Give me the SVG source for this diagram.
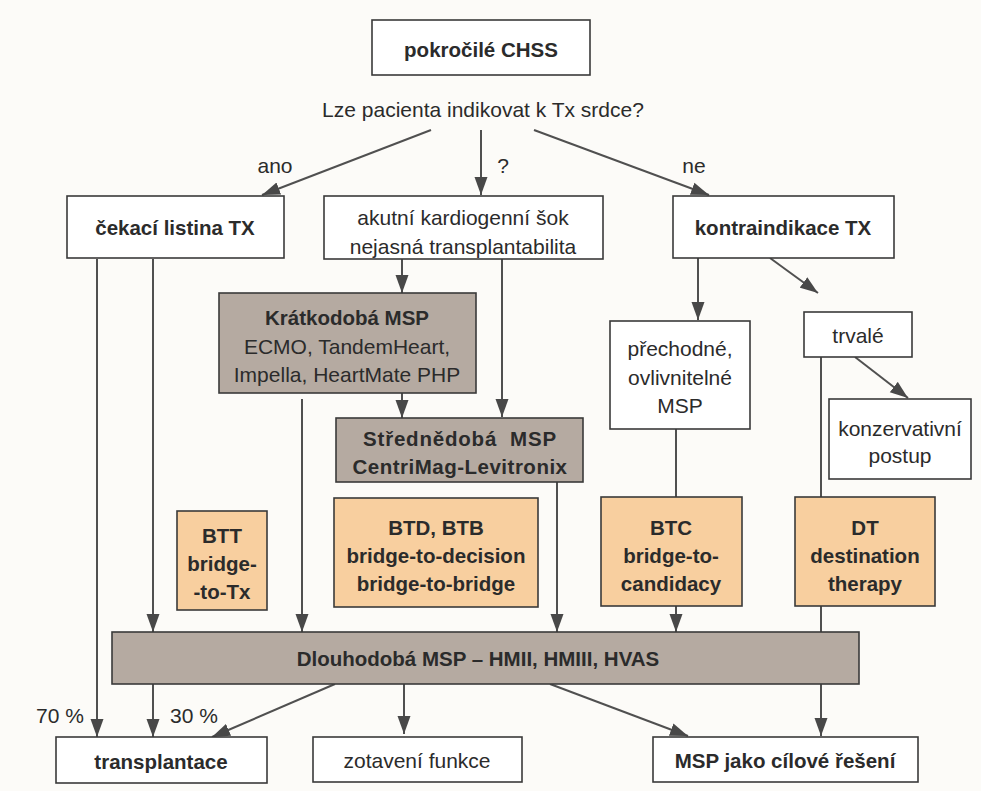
<svg xmlns="http://www.w3.org/2000/svg" width="981" height="791" viewBox="0 0 981 791">
<style>
text{font-family:"Liberation Sans",Arial,sans-serif;font-size:21px;fill:#2b2b2b;text-anchor:middle;dominant-baseline:central}
.b{font-weight:bold;font-size:20.5px}
.w{fill:#ffffff;stroke:#3a3a3a;stroke-width:1.6}
.g{fill:#b5aaa1;stroke:#3a3a3a;stroke-width:1.6}
.o{fill:#f8cf9f;stroke:#3a3a3a;stroke-width:1.6}
.c line{stroke:#505050;stroke-width:2}
.c .a{marker-end:url(#ah)}
</style>
<defs>
<marker id="ah" markerUnits="userSpaceOnUse" markerWidth="19" markerHeight="14" refX="18" refY="7" orient="auto">
<path d="M0,0.5 L18,7 L0,13.5 z" fill="#484848"/>
</marker>
</defs>
<rect width="981" height="791" fill="#fcfbf8"/>
<g id="connectors" class="c">
<line class="a" x1="431" y1="130" x2="262" y2="195"/>
<line class="a" x1="481" y1="130" x2="481" y2="195"/>
<line class="a" x1="534" y1="130" x2="709" y2="195"/>
<line class="a" x1="97" y1="259" x2="97" y2="737"/>
<line class="a" x1="153" y1="259" x2="153" y2="632"/>
<line class="a" x1="402" y1="259" x2="402" y2="293"/>
<line class="a" x1="502" y1="259" x2="502" y2="417"/>
<line class="a" x1="402" y1="393" x2="402" y2="418"/>
<line class="a" x1="302" y1="399" x2="302" y2="632"/>
<line class="a" x1="557" y1="482" x2="557" y2="632"/>
<line class="a" x1="698" y1="258" x2="698" y2="320"/>
<line class="a" x1="770" y1="258" x2="818" y2="293"/>
<line x1="676" y1="429" x2="676" y2="497"/>
<line x1="821" y1="357" x2="821" y2="497"/>
<line class="a" x1="855" y1="357" x2="908" y2="398"/>
<line class="a" x1="676" y1="606" x2="676" y2="632"/>
<line x1="821" y1="606" x2="821" y2="632"/>
<line class="a" x1="153" y1="684" x2="153" y2="737"/>
<line class="a" x1="335" y1="684" x2="212" y2="737"/>
<line class="a" x1="404" y1="684" x2="404" y2="734"/>
<line class="a" x1="550" y1="684" x2="688" y2="736"/>
<line class="a" x1="821" y1="684" x2="821" y2="736"/>
</g>
<g id="labels">
<text x="483" y="109" font-size="21.5">Lze pacienta indikovat k Tx srdce?</text>
<text x="275" y="165">ano</text>
<text x="503" y="165">?</text>
<text x="694" y="165">ne</text>
<text x="60" y="715">70 %</text>
<text x="194" y="715">30 %</text>
</g>
<g id="n-chss"><rect class="w" x="372" y="20" width="218" height="55"/><text class="b" x="481" y="49">pokročilé CHSS</text></g>
<g id="n-cekaci"><rect class="w" x="67" y="196" width="217" height="62"/><text class="b" x="175" y="227">čekací listina TX</text></g>
<g id="n-akutni"><rect class="w" x="324" y="196" width="279" height="63"/><text x="463" y="217">akutní kardiogenní šok</text><text x="463" y="246">nejasná transplantabilita</text></g>
<g id="n-kontra"><rect class="w" x="673" y="196" width="221" height="62"/><text class="b" x="783" y="227">kontraindikace TX</text></g>
<g id="n-kratko"><rect class="g" x="219" y="293" width="257" height="100"/><text class="b" x="347" y="317">Krátkodobá MSP</text><text x="347" y="346">ECMO, TandemHeart,</text><text x="347" y="374">Impella, HeartMate PHP</text></g>
<g id="n-stredne"><rect class="g" x="336" y="418" width="247" height="64"/><text class="b" x="460" y="438" letter-spacing="0.8" xml:space="preserve">Střednědobá  MSP</text><text class="b" x="460" y="466" letter-spacing="0.5">CentriMag-Levitronix</text></g>
<g id="n-prechodne"><rect class="w" x="610" y="321" width="140" height="108"/><text x="680" y="348">přechodné,</text><text x="680" y="377">ovlivnitelné</text><text x="680" y="405">MSP</text></g>
<g id="n-trvale"><rect class="w" x="804" y="312" width="108" height="45"/><text x="858" y="335">trvalé</text></g>
<g id="n-konzerv"><rect class="w" x="829" y="399" width="142" height="80"/><text x="900" y="428">konzervativní</text><text x="900" y="455">postup</text></g>
<g id="n-btt"><rect class="o" x="177" y="511" width="90" height="99"/><text class="b" x="222" y="535">BTT</text><text class="b" x="222" y="563">bridge-</text><text class="b" x="222" y="591">-to-Tx</text></g>
<g id="n-btd"><rect class="o" x="334" y="498" width="204" height="109"/><text class="b" x="436" y="527">BTD, BTB</text><text class="b" x="436" y="555">bridge-to-decision</text><text class="b" x="436" y="583">bridge-to-bridge</text></g>
<g id="n-btc"><rect class="o" x="601" y="497" width="141" height="109"/><text class="b" x="671" y="527">BTC</text><text class="b" x="671" y="555">bridge-to-</text><text class="b" x="671" y="583">candidacy</text></g>
<g id="n-dt"><rect class="o" x="795" y="497" width="140" height="109"/><text class="b" x="865" y="527">DT</text><text class="b" x="865" y="555">destination</text><text class="b" x="865" y="583">therapy</text></g>
<g id="n-dlouho"><rect class="g" x="112" y="632" width="747" height="52"/><text class="b" x="478" y="658" font-size="21.5">Dlouhodobá MSP – HMII, HMIII, HVAS</text></g>
<g id="n-transpl"><rect class="w" x="56" y="737" width="211" height="46"/><text class="b" x="161" y="761">transplantace</text></g>
<g id="n-zotaveni"><rect class="w" x="313" y="737" width="209" height="45"/><text x="417" y="760">zotavení funkce</text></g>
<g id="n-cilove"><rect class="w" x="653" y="737" width="265" height="45"/><text class="b" x="785" y="760">MSP jako cílové řešení</text></g>
</svg>
